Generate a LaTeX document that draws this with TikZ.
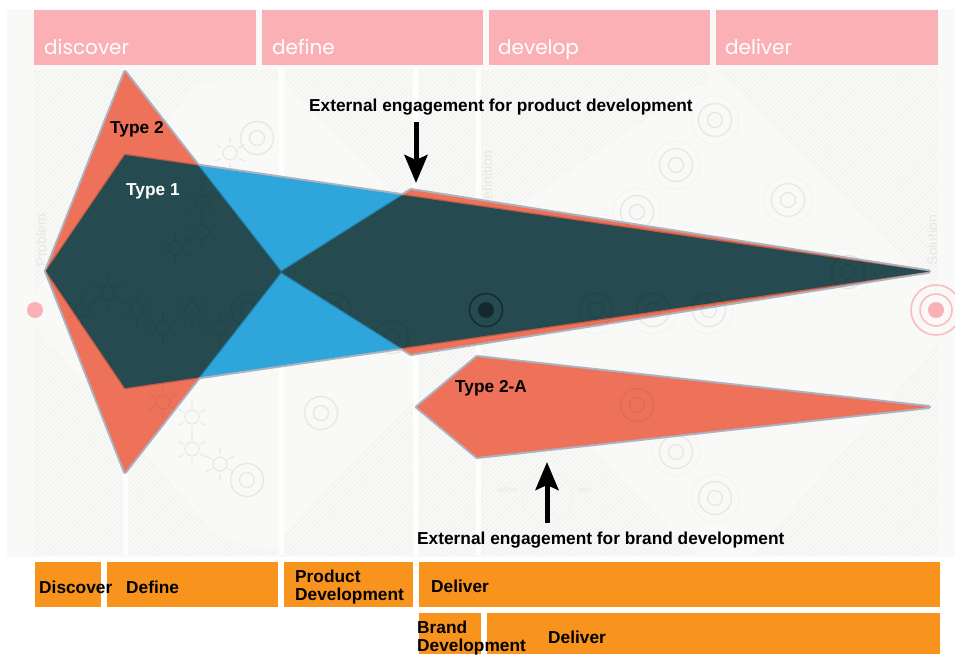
\documentclass[tikz,border=0pt]{standalone}
\usepackage{fontspec}
\setmainfont{Liberation Sans}
\newfontfamily\headfont{Poppins}
\usetikzlibrary{patterns.meta,arrows.meta}
\definecolor{bgc}{HTML}{F9F9F8}
\definecolor{pinkc}{HTML}{FBB0B5}
\definecolor{orangec}{HTML}{F8931D}
\definecolor{redc}{HTML}{EE7259}
\definecolor{bluec}{HTML}{2EA6DC}
\definecolor{darkc}{HTML}{254A50}
\definecolor{edgec}{HTML}{AAB3BF}
\definecolor{iconc}{HTML}{E7E7E6}
\definecolor{dotc}{HTML}{F0F0EF}
\definecolor{hatchc}{HTML}{EFEFEE}
\tikzset{
 hatch/.style={pattern={Lines[angle=45,distance=3.2pt,line width=.7pt]},pattern color=hatchc,draw=none},
 bar/.style={fill=orangec,draw=none},
 head/.style={fill=pinkc,draw=none},
 stripe/.style={fill=white,draw=none,opacity=.85},
 lab/.style={font=\bfseries\fontsize{17.3}{18}\selectfont,anchor=west,inner sep=0pt,text=black,align=left},
 headlab/.style={font=\headfont\fontsize{20}{20}\selectfont,anchor=base west,inner sep=0pt,text=white},
 faintlab/.style={font=\fontsize{14}{14}\selectfont,text=iconc,rotate=90,inner sep=0pt},
 tinylab/.style={font=\fontsize{8}{8}\selectfont,text=iconc,inner sep=0pt},
 bigarrow/.style={line width=5pt,-{Stealth[length=28pt,width=23pt,inset=5pt]}},
 outer/.style={draw=edgec,line width=4pt,line join=round},
}
\newcommand{\targeticon}[3]{\draw[#3,line width=1.3pt] (#1,#2) circle (16.5) (#1,#2) circle (7.5);}
\newcommand{\sunicon}[3]{\draw[#3,line width=1.1pt] (#1,#2) circle (7)
 foreach \a in {30,90,...,330}{ (#1,#2)++(\a:10) --++(\a:6)};}
\newcommand{\allicons}[1]{%
 \foreach \x/\y in {257/138,715/120,676/165,637/212,788/200,848/272,596/310,653/310,709/310,248/310,334/310,392/337,321/413,247/480,637/405,676/452,715/498}{\targeticon{\x}{\y}{#1}}
 \foreach \x/\y in {230/153,202/202,202/232,175/248,108/293,82/310,137/310,192/310,163/328,220/328,163/402,192/417,192/449,220/464}{\sunicon{\x}{\y}{#1}}
}
\newcommand{\redpath}{(46,271) -- (125,72) -- (281,272) -- (411,190) -- (929,271.5) -- (411,354) -- (281,272) -- (125,472) -- cycle}
\newcommand{\bluepath}{(46,271) -- (125,155) -- (929,271.5) -- (125,388) -- cycle}
\newcommand{\twoapath}{(417,407) -- (477,357) -- (929,407) -- (477,457) -- cycle}
\begin{document}
\begin{tikzpicture}[x=1pt,y=-1pt]
\useasboundingbox (0,0) rectangle (955,654);
\fill[white] (0,0) rectangle (955,654);
\fill[bgc] (7,9) rectangle (955,557);
% hatched corners
\fill[hatch] (34,70) -- (278,70) -- (278,80) -- (225,79) -- (195,85) -- (34,295) -- cycle;
\fill[hatch] (285,70) -- (412,70) -- (412,212) -- (287,84) -- cycle;
\fill[hatch] (419,70) -- (475,70) -- (475,300) -- (419,300) -- cycle;
\fill[hatch] (481,70) -- (708,70) -- (708,85) -- (690,87) -- (640,123) -- (481,232) -- cycle;
\fill[hatch] (716,70) -- (937,70) -- (937,292) -- (735,87) -- cycle;
\fill[hatch] (34,325) -- (147,455) -- (213,532) -- (250,547) -- (278,549) -- (278,555) -- (34,555) -- cycle;
\fill[hatch] (285,555) -- (285,533) -- (413,400) -- (413,555) -- cycle;
\fill[hatch] (419,345) -- (475,345) -- (475,555) -- (419,555) -- cycle;
\fill[hatch] (481,345) -- (602,458) -- (680,540) -- (700,555) -- (481,555) -- cycle;
\fill[hatch] (752,555) -- (937,345) -- (937,555) -- cycle;
% vertical stripes
\fill[stripe] (122.5,400) rectangle (127.5,555);
\foreach \x in {278.5,412.5,475.5}{\fill[stripe] (\x,68) rectangle +(5,487);}
% faint icons
\allicons{iconc}
\foreach \x/\y in {715/120,676/165,637/212,788/200,848/272,596/310,653/310,709/310,637/405,676/452,715/498}{
 \draw[dotc,line width=1pt,densely dotted] (\x,\y) circle (24);}
\node[faintlab] (lprob) at (41,240) {Problem};
\node[faintlab] (ldef) at (487,208) {Problem Definition};
\node[faintlab] (lsol) at (932,240) {Solution};
\draw[dotc,line width=1pt,densely dotted] (547,497) circle (25);
\node[tinylab] (lref) at (507,490) {refine};
\node[tinylab] (ltest) at (585,490) {test};
% pink markers
\fill[pinkc] (35,310) circle (8);
\draw[pinkc!85!white,line width=1.6pt] (936,310) circle (25) (936,310) circle (16);
\fill[pinkc] (936,310) circle (8);
% header bars
\fill[head] (34,9.5) rectangle (256,65);
\fill[head] (262,9.5) rectangle (483,65);
\fill[head] (489,9.5) rectangle (710,65);
\fill[head] (716,9.5) rectangle (937.5,65);
\node[headlab] (hdiscover) at (44,54) {discover};
\node[headlab] (hdefine) at (272,54) {define};
\node[headlab] (hdevelop) at (498,54) {develop};
\node[headlab] (hdeliver) at (725,54) {deliver};
% gray outer edges
\path[outer] \redpath;
\path[outer] \bluepath;
\path[outer] \twoapath;
% red fills and what shows through them
\fill[redc] \redpath;
\fill[redc] \twoapath;
\begin{scope}
 \clip \redpath;
 \allicons{redc!94!black}
\end{scope}
\begin{scope}
 \clip \twoapath;
 \allicons{redc!94!black}
\end{scope}
\fill[bluec] \bluepath;
% inner boundaries
\begin{scope}
 \clip \bluepath;
 \draw[bluec!78!black,line width=2.5pt] \redpath;
\end{scope}
\begin{scope}
 \clip \redpath;
 \draw[redc!80!black,line width=2.5pt] \bluepath;
\end{scope}
% overlap
\begin{scope}
 \clip \redpath;
 \fill[darkc] \bluepath;
 \clip \bluepath;
 \allicons{darkc!93!black}
 \draw[black!45!darkc,line width=1.3pt] (486,310) circle (16.5);
 \fill[black!45!darkc] (486,310) circle (8);
\end{scope}
% texts
\node[lab] (ttwo) at (110,129) {Type 2};
\node[lab,text=white] (tone) at (126,191) {Type 1};
\node[lab] (ttwoa) at (455,388.5) {Type 2-A};
\node[lab] (eprod) at (309,107.5) {External engagement for product development};
\node[lab] (ebrand) at (417,540.5) {External engagement for brand development};
% arrows
\coordinate (pstart) at (416,122);
\coordinate (pend) at (416,183);
\coordinate (bstart) at (547,523);
\coordinate (bend) at (547,462);
\draw[bigarrow] (pstart) -- (pend);
\draw[bigarrow] (bstart) -- (bend);
% orange bars
\fill[bar] (35,561.5) rectangle (101,607);
\fill[bar] (107,561.5) rectangle (278,607);
\fill[bar] (284,561.5) rectangle (413,607);
\fill[bar] (419,561.5) rectangle (940,607);
\fill[bar] (419,613) rectangle (481,654);
\fill[bar] (487,613) rectangle (940,654);
\node[lab] (bdiscover) at (39,587) {Discover};
\node[lab] (bdefine) at (126,587) {Define};
\node[lab] (bproduct) at (295,587) {Product\\Development};
\node[lab] (bdeliver) at (431,586) {Deliver};
\node[lab] (bbrand) at (417,638) {Brand\\Development};
\node[lab] (bdeliverb) at (548,637) {Deliver};
\end{tikzpicture}
\end{document}
